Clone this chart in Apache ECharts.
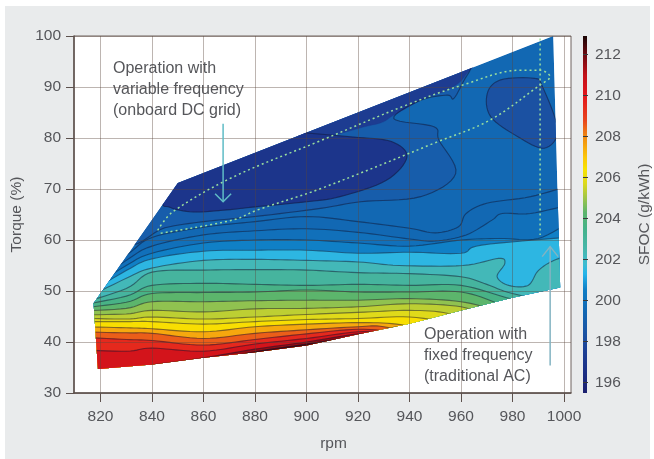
<!DOCTYPE html>
<html>
<head>
<meta charset="utf-8">
<style>
html,body{margin:0;padding:0;background:#fff;width:654px;height:459px;overflow:hidden}
#panel{position:absolute;left:5px;top:6px;width:645px;height:453px;background:#e9ebec}
#chart{position:absolute;left:0;top:0;width:654px;height:459px;filter:blur(0.55px)}
</style>
<script src="https://cdn.jsdelivr.net/npm/echarts@6/dist/echarts.min.js"></script>
</head>
<body>
<div id="panel"></div>
<div id="chart"></div>
<script>
// ---------- data (rpm, torque %) ----------
const rpmTicks = [820,840,860,880,900,920,940,960,980,1000];
const sfocTicks = [196,198,200,202,204,206,208,210,212];
const envelope = [[817.3,47.6],[850,71.2],[995.8,100],[998.5,50.7],[980,48.7],[960,46.2],[940,43.6],[920,41.5],[900,39.3],[880,38],[860,36.9],[840,35.6],[819,34.7]];
const colorStops = [[195.5,'#1b1f6e'],[196.5,'#1c2f85'],[197.5,'#1d3f94'],[198.5,'#1a55a5'],[199.5,'#1268b3'],[200.5,'#0f7cc4'],[201.3,'#25b4ea'],[201.8,'#3fbcd0'],[202.5,'#46b6ab'],[203.5,'#45b28a'],[204.3,'#5cb56c'],[205,'#9ec548'],[205.7,'#dcd91e'],[206.4,'#f7e300'],[207,'#fbc60a'],[208,'#f08a12'],[208.8,'#e8441e'],[210,'#e3161c'],[211,'#c2121a'],[212,'#6d0a10'],[212.9,'#1a0606']];
const baseLevel = 199.5;
const contour200 = [[810,50],[830,57],[840,60.5],[860,62.5],[880,63.6],[900,64.6],[920,63.6],[940,62.3],[950,61.4],[959,62.6],[962,65.2],[970,67.2],[987,68.5],[1003,70.8]];
const contour2005 = [[810,49],[830,56],[840,58.8],[860,61],[880,61.8],[900,62.2],[920,61.5],[940,60.2],[950,59.8],[962,61],[972,63.9],[976,65.2],[987,65.2],[1003,67]];
const contour201 = [[810,48.5],[830,55],[840,57.4],[860,59.4],[880,60],[900,60],[920,59.4],[940,58.8],[960,60],[975,60.3],[990,60.3],[1003,63.8]];
const contour2015 = [[810,48],[830,54],[840,56.3],[860,57.8],[880,58],[900,58],[920,57.4],[940,57.6],[960,57.4],[968,59],[1003,60.6]];
const contour202 = [[810,47.5],[830,52.5],[840,54.5],[860,56],[880,56.2],[900,56],[920,55.7],[936,55],[960.7,55],[974.6,56.4],[977,55.4],[974,52.8],[978.5,51.1],[986,51.1],[990,54],[996,56],[1003,57]];
const contour2026 = [[810,47.2],[830,50.5],[840,53.7],[860,54.1],[880,54.2],[900,54.1],[920,53.6],[940,53.4],[960,52.8],[970,51.3],[980,49.5],[1003,47]];
const contour2032 = [[810,47],[830,49],[840,51.1],[860,51.5],[880,51.3],[900,51.1],[920,51.3],[940,51.1],[960,51.1],[980,48.4],[1003,46]];
const contour2038 = [[810,46.5],[830,47.8],[840,49.5],[860,49.7],[880,49.8],[900,50.2],[920,49.8],[940,49.8],[960,49.8],[975,47.5],[990,45]];
const contour2044 = [[810,46],[830,46.6],[840,47.9],[860,47.9],[880,48.1],[900,48.2],[920,48.2],[940,48.5],[960,47.9],[975,46],[990,44]];
const contour2049 = [[810,45.3],[830,45.5],[840,46.2],[860,45.9],[880,46.5],[900,46.6],[920,46.9],[940,47.5],[960,46.9],[970,45],[985,43]];
const contour2054 = [[810,44.7],[830,44.5],[840,44.9],[860,44.5],[880,44.9],[900,45.4],[920,45.8],[940,46.2],[955,45.6],[970,43]];
const contour206 = [[810,44],[830,44],[840,44],[860,43.5],[880,44],[900,44.4],[920,44.6],[940,44.9],[960,43.5]];
const contour207 = [[810,43],[830,42.8],[840,42.6],[860,42],[880,43],[900,43.5],[920,43.8],[935,43.5],[950,42]];
const contour208 = [[810,42],[830,41.8],[840,41.7],[860,40.7],[880,41.7],[900,42.4],[920,43],[930,43],[945,41]];
const contour209 = [[810,41],[830,40.5],[840,40.3],[860,39.4],[880,40.5],[900,41.6],[920,42.5],[935,42]];
const contour210 = [[810,38.5],[830,38.2],[840,38.8],[860,38.2],[880,39.6],[900,40.7],[920,42],[935,42]];
const contour211 = [[810,33],[830,34.5],[840,35.5],[860,36.9],[880,38.6],[900,40],[920,41.6],[935,42]];
const contour212 = [[830,32],[840,33.5],[860,36],[880,38.1],[900,39.6],[920,41.3],[935,43]];
const blob199 = [[1000,103],[970,97],[962.5,92.4],[957.3,87.8],[954.7,88.4],[944.3,87.4],[933.9,83.8],[949.5,82.2],[951.4,79.6],[957.9,73],[944.3,68.5],[921,67.5],[905.4,66.2],[880,64.6],[860,63.6],[845,62.4],[830,60],[830,80],[900,103]];
const blob1975 = [[895,81],[925,82.5],[934,84.5],[945,87.6],[955,89.5],[962,92.5],[968,100],[895,100]];
const blob197 = [[848,78],[844,68],[847,66.4],[856,65.5],[869,65.9],[880,66.5],[900,67.5],[913,68.5],[931,71.7],[939,76.3],[933,79.3],[918,80.2],[900,81],[880,82],[860,82]];
const blobRight = [[970.2,88.75],[975.4,91.4],[988.4,91.7],[991.6,90.1],[997.5,81.6],[992.3,78],[981.9,80.3],[971.5,84.2]];
const dottedUpper = [[842.2,61.9],[848,65.5],[871.3,72.3],[905.1,79.4],[939,86.5],[960.7,90.4],[982.9,93.3],[990.7,93.3],[994.6,92],[990.7,90.4],[971.2,83.5],[950.6,79.2],[905.1,70],[881,65.9],[871.3,63.9],[842.9,61.3]];
const dottedVertical = [[990.7,99.5],[990.7,61]];
const arrows = [[867.6,82.8,67.5,'#5fbcc6'],[994.6,35.4,58.7,'#83b3c2']];

const lines = [
 [199.3,contour200],[199.7,contour2005],[200.1,contour201],[201.0,contour2015],[201.9,contour202],
 [202.6,contour2026],[203.2,contour2032],[204.0,contour2038],[204.6,contour2044],[205.1,contour2049],
 [205.6,contour2054],[206,contour206],[207,contour207],[208,contour208],[209,contour209],[210,contour210],[211,contour211],[212,contour212]
];
const blobs = [[198.9,blob199,true],[197.3,blob1975,false],[196.9,blob197,true],[198.3,blobRight,true]];

// ---------- helpers ----------
function hex(c){return [1,3,5].map(i=>parseInt(c.substr(i,2),16));}
function colorAt(v){
  for(let i=1;i<colorStops.length;i++){
    if(v<=colorStops[i][0]){
      const a=colorStops[i-1],b=colorStops[i],t=(v-a[0])/(b[0]-a[0]);
      const A=hex(a[1]),B=hex(b[1]);
      return 'rgb('+A.map((x,k)=>Math.round(x+(B[k]-x)*t)).join(',')+')';
    }
  }
  return colorStops[colorStops.length-1][1];
}
function spline(P,closed){
  const n=P.length,out=[];
  const g=i=>closed?P[(i+n)%n]:P[Math.max(0,Math.min(n-1,i))];
  const m=closed?n:n-1;
  for(let i=0;i<m;i++){
    const p0=g(i-1),p1=g(i),p2=g(i+1),p3=g(i+2);
    for(let s=0;s<8;s++){
      const t=s/8,t2=t*t,t3=t2*t;
      out.push([0,1].map(k=>0.5*(2*p1[k]+(p2[k]-p0[k])*t+(2*p0[k]-5*p1[k]+4*p2[k]-p3[k])*t2+(3*p1[k]-p0[k]-3*p2[k]+p3[k])*t3)));
    }
  }
  if(!closed)out.push(P[n-1]);
  return out;
}
function clipShape(api){
  return {type:'polygon',shape:{points:envelope.map(p=>api.coord(p))}};
}

// ---------- painter's layers ----------
const fillLayers=[{poly:envelope,color:colorAt(baseLevel),raw:true}];
lines.forEach((l,i)=>{
  const next=lines[i+1]?lines[i+1][0]:212.8;
  fillLayers.push({line:l[1],color:colorAt((l[0]+next)/2)});
});
blobs.forEach(b=>{fillLayers.push({blob:b[1],color:colorAt(b[0])});});
const strokeLayers=[];
lines.forEach(l=>strokeLayers.push({pts:l[1],closed:false}));
blobs.forEach(b=>{if(b[2])strokeLayers.push({pts:b[1],closed:true});});

function renderFill(params,api){
  const L=fillLayers[params.dataIndex];
  let pts;
  if(L.raw){pts=L.poly.map(p=>api.coord(p));}
  else if(L.blob){pts=spline(L.blob.map(p=>api.coord(p)),true);}
  else{
    const s=spline(L.line.map(p=>api.coord(p)),false);
    const a=api.coord([L.line[L.line.length-1][0],20]),b=api.coord([L.line[0][0],20]);
    pts=s.concat([a,b]);
  }
  return {type:'polygon',shape:{points:pts},style:{fill:L.color,stroke:L.color,lineWidth:0.4},clipPath:clipShape(api)};
}
function renderStroke(params,api){
  const L=strokeLayers[params.dataIndex];
  const pts=spline(L.pts.map(p=>api.coord(p)),L.closed);
  if(L.closed)pts.push(pts[0]);
  return {type:'polyline',shape:{points:pts},style:{fill:null,stroke:'rgba(18,22,50,0.5)',lineWidth:1.1},clipPath:clipShape(api)};
}
function renderArrow(params,api){
  const A=arrows[params.dataIndex];
  const s=api.coord([A[0],A[1]]),e=api.coord([A[0],A[2]]);
  const dir=e[1]>s[1]?-1:1, hw=8, hh=dir>0?10:8;
  const style={fill:null,stroke:A[3],lineWidth:1.5};
  return {type:'group',children:[
    {type:'line',shape:{x1:s[0],y1:s[1],x2:e[0],y2:e[1]},style:style},
    {type:'polyline',shape:{points:[[e[0]-hw,e[1]+dir*hh],e,[e[0]+hw,e[1]+dir*hh]]},style:style}
  ]};
}
function renderBar(params,api){
  const a=api.coord([0,colorStops[colorStops.length-1][0]]),b=api.coord([1,colorStops[0][0]]);
  const lo=colorStops[0][0],hi=colorStops[colorStops.length-1][0];
  return {type:'rect',shape:{x:a[0],y:a[1],width:b[0]-a[0],height:b[1]-a[1]},
    style:{fill:new echarts.graphic.LinearGradient(0,1,0,0,colorStops.map(c=>({offset:(c[0]-lo)/(hi-lo),color:c[1]})))}};
}

const textColor='#55565a', font='"Liberation Sans"', fs=15.5;
const noteStyle={fontFamily:font,fontSize:16,fill:textColor,lineHeight:21};
const chart=echarts.init(document.getElementById('chart'),null,{renderer:'canvas'});
chart.setOption({
  backgroundColor:'transparent',
  animation:false,
  textStyle:{fontFamily:font},
  grid:[
    {left:74,right:83,top:36,bottom:66,show:true,backgroundColor:'#fff',borderColor:'#6e625e',borderWidth:1,containLabel:false},
    {left:583,width:8,top:36,bottom:66,show:false}
  ],
  xAxis:[
    {type:'value',gridIndex:0,min:809.7,max:1002.7,z:3,
     name:'rpm',nameLocation:'middle',nameGap:43,nameTextStyle:{color:textColor,fontSize:fs,padding:[0,0,0,22]},
     axisLine:{show:true,lineStyle:{color:'#5d514d',width:1.5}},
     axisTick:{show:true,length:9,customValues:rpmTicks,lineStyle:{color:'#5d514d',width:1}},
     axisLabel:{customValues:rpmTicks,color:textColor,fontSize:fs,margin:16,formatter:v=>String(v)},
     splitLine:{show:true,lineStyle:{color:'rgba(90,70,60,0.4)',width:1}}},
    {type:'value',gridIndex:1,min:0,max:1,show:false}
  ],
  yAxis:[
    {type:'value',gridIndex:0,min:30,max:100,interval:10,z:3,
     name:'Torque (%)',nameLocation:'middle',nameGap:48,nameTextStyle:{color:textColor,fontSize:fs},
     axisLine:{show:true,lineStyle:{color:'#5d514d',width:1.5}},
     axisTick:{show:true,length:8,lineStyle:{color:'#5d514d',width:1}},
     axisLabel:{color:textColor,fontSize:fs,margin:13},
     splitLine:{show:true,lineStyle:{color:'rgba(90,70,60,0.4)',width:1}}},
    {type:'value',gridIndex:1,min:195.5,max:212.9,position:'right',z:3,
     name:'SFOC (g/kWh)',nameLocation:'middle',nameGap:50,nameRotate:90,nameTextStyle:{color:textColor,fontSize:fs,padding:[0,0,0,0]},
     axisLine:{show:false},
     axisTick:{show:true,length:5,customValues:sfocTicks,lineStyle:{color:'#3a3a3a',width:1}},
     axisLabel:{customValues:sfocTicks,color:textColor,fontSize:fs,margin:8,formatter:v=>String(v)},
     splitLine:{show:true,lineStyle:{color:'rgba(20,20,20,0.8)',width:1}}}
  ],
  series:[
    {type:'custom',name:'SFOC bands',xAxisIndex:0,yAxisIndex:0,z:1,silent:true,renderItem:renderFill,clip:false,
     data:fillLayers.map((l,i)=>[i])},
    {type:'custom',name:'SFOC contours',xAxisIndex:0,yAxisIndex:0,z:2,silent:true,renderItem:renderStroke,clip:false,
     data:strokeLayers.map((l,i)=>[i])},
    {type:'line',name:'Variable frequency',xAxisIndex:0,yAxisIndex:0,z:4,data:dottedUpper,smooth:0.35,showSymbol:false,silent:true,
     lineStyle:{color:'#9adf9e',width:1.5,type:[2,3]}},
    {type:'line',name:'Fixed frequency limit',xAxisIndex:0,yAxisIndex:0,z:4,data:dottedVertical,showSymbol:false,silent:true,
     lineStyle:{color:'#9adf9e',width:1.5,type:[2,3]}},
    {type:'custom',name:'Arrows',xAxisIndex:0,yAxisIndex:0,z:5,silent:true,renderItem:renderArrow,clip:false,
     data:arrows.map((a,i)=>[i])},
    {type:'custom',name:'Colour bar',xAxisIndex:1,yAxisIndex:1,z:1,silent:true,renderItem:renderBar,clip:false,data:[[0]]}
  ],
  graphic:[
    {type:'text',left:113,top:58,z:10,silent:true,style:Object.assign({text:'Operation with\nvariable frequency\n(onboard DC grid)'},noteStyle)},
    {type:'text',left:424,top:324,z:10,silent:true,style:Object.assign({text:'Operation with\nfixed frequency\n(traditional AC)'},noteStyle)}
  ]
});
</script>
</body>
</html>
